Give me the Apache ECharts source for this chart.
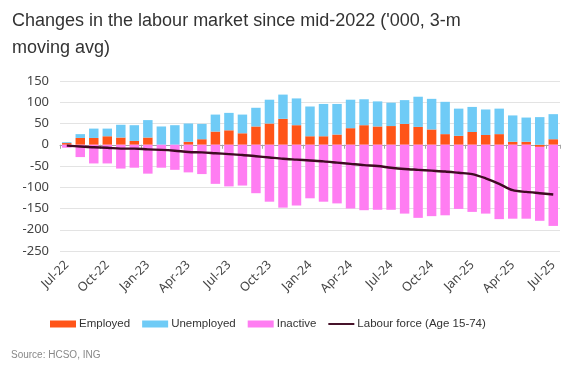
<!DOCTYPE html>
<html><head><meta charset="utf-8">
<script src="https://cdn.jsdelivr.net/npm/echarts@6/dist/echarts.min.js"></script>
<style>html,body{margin:0;padding:0;background:#fff}#c{width:577px;height:386px}</style>
</head><body><div id="c"></div>
<script>
const categories = ['Jul-22','Aug-22','Sep-22','Oct-22','Nov-22','Dec-22','Jan-23','Feb-23','Mar-23','Apr-23','May-23','Jun-23','Jul-23','Aug-23','Sep-23','Oct-23','Nov-23','Dec-23','Jan-24','Feb-24','Mar-24','Apr-24','May-24','Jun-24','Jul-24','Aug-24','Sep-24','Oct-24','Nov-24','Dec-24','Jan-25','Feb-25','Mar-25','Apr-25','May-25','Jun-25','Jul-25'];
const employed = [4,16,16,20,17,9,17,0,0,7,13,31,34,27,43,50,61,46,20,20,24,39,46,43,44,49,42,36,25,21,30,23,25,7,7,-5,13];
const unemployed = [2,9,22,18,30,37,41,43,46,43,36,40,41,44,44,56,57,63,70,76,72,67,61,59,55,56,71,72,76,64,59,60,60,62,57,65,59];
const inactive = [-7,-29,-44,-44,-56,-54,-68,-54,-59,-65,-69,-92,-98,-96,-114,-134,-148,-143,-126,-134,-138,-150,-154,-153,-153,-162,-172,-168,-166,-151,-158,-162,-175,-174,-174,-174,-191];
const labourForce = [-2,-4,-6,-7,-9,-9,-11,-12,-14,-17,-18,-20,-22,-24,-27,-30,-33,-35,-37,-39,-42,-45,-48,-50,-54,-57,-59,-61,-63,-66,-69,-79,-92,-107,-111,-114,-117];
const yTicks = {min:-250, max:150, interval:50};

const chart = echarts.init(document.getElementById('c'), null, {renderer:'canvas'});
const axisFont = '"Noto Sans", "Open Sans", sans-serif';
const arial = '"Liberation Sans", Arial, sans-serif';
chart.setOption({
  animation:false,
  title:{text:"Changes in the labour market since mid-2022 ('000, 3-m\nmoving avg)", left:7, top:3,
    textStyle:{fontFamily:arial, fontSize:18, fontWeight:'normal', color:'#333', lineHeight:27}},
  grid:{left:60, right:17, top:81, bottom:135},
  legend:{left:45, top:313, itemWidth:26, itemHeight:7, itemGap:12,
    textStyle:{fontFamily:arial, fontSize:11.5, color:'#333', padding:[0,0,0,-2]},
    data:[{name:'Employed', icon:'rect'},{name:'Unemployed', icon:'rect'},{name:'Inactive', icon:'rect'},
          {name:'Labour force (Age 15-74)', icon:'path://M0,0h27v2h-27z', itemStyle:{color:'#3f0a22'}}]},
  graphic:[{type:'text', left:11, top:350, style:{text:'Source: HCSO, ING', fill:'#888', font:'10px "Liberation Sans", Arial, sans-serif'}}],
  xAxis:[
    {type:'category', data:categories, position:'bottom', axisLine:{show:false, onZero:false}, axisTick:{show:false},
     axisLabel:{interval:2, rotate:45, fontFamily:axisFont, fontSize:12.5, color:'#444', margin:12}},
    {type:'category', data:categories, position:'bottom', axisLine:{show:true, onZero:true, lineStyle:{color:'#a6a6a6', width:1}},
     axisTick:{show:true, interval:2, length:4, lineStyle:{color:'#a6a6a6'}}, axisLabel:{show:false}}
  ],
  yAxis:{type:'value', min:yTicks.min, max:yTicks.max, interval:yTicks.interval,
    axisLine:{show:false}, axisTick:{show:false},
    axisLabel:{fontFamily:axisFont, fontSize:13, color:'#444', margin:11},
    splitLine:{lineStyle:{color:'#e3e3e3', width:1}}},
  series:[
    {name:'Employed', type:'bar', stack:'a', data:employed, itemStyle:{color:'#ff5418'}, barCategoryGap:'30%'},
    {name:'Unemployed', type:'bar', stack:'a', data:unemployed, itemStyle:{color:'#6fcbf6'}},
    {name:'Inactive', type:'bar', stack:'a', data:inactive, itemStyle:{color:'#ff7df2'}},
    {name:'Labour force (Age 15-74)', type:'line', data:labourForce, symbol:'none', smooth:0.3,
     lineStyle:{color:'#3f0a22', width:2.4}, itemStyle:{color:'#3f0a22'}, z:5}
  ]
});
</script></body></html>
